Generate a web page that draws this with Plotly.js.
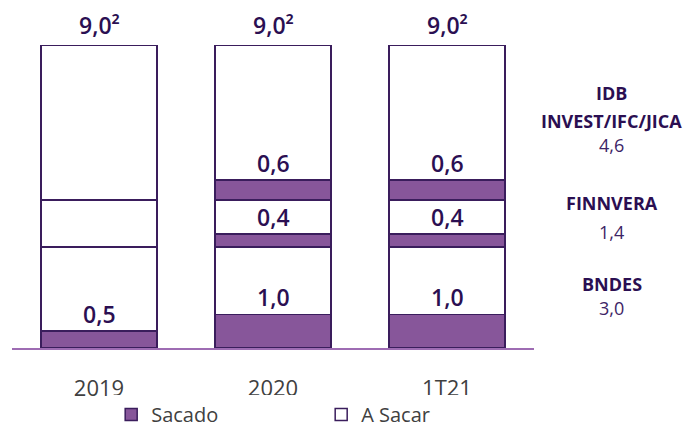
<!DOCTYPE html>
<html>
<head>
<meta charset="utf-8">
<script src="https://cdn.plot.ly/plotly-3.0.1.min.js"></script>
<style>html,body{margin:0;padding:0;background:#fff;}#chart{width:700px;height:428px;}</style>
</head>
<body>
<div id="chart"></div>
<script>
const categories = ['2019', '2020', '1T21'];
const bndesSacado = [0.5, 1.0, 1.0];
const bndesASacar = [2.5, 2.0, 2.0];
const finnveraSacado = [0, 0.4, 0.4];
const finnveraASacar = [1.4, 1.0, 1.0];
const idbSacado = [0, 0.6, 0.6];
const idbASacar = [4.6, 4.0, 4.0];
const totals = [9.0, 9.0, 9.0];
const totalLabels = ['9,0²', '9,0²', '9,0²'];
const groupHeaders = [['BNDES'], ['FINNVERA'], ['IDB', 'INVEST/IFC/JICA']];
const groupTotals = ['3,0', '1,4', '4,6'];

const purple = '#87569a';
const edge = '#3a1d5c';
const textDark = '#2b0f52';
const fmt = v => v.toFixed(1).replace('.', ',');

const segments = [
  [bndesSacado, bndesASacar],
  [finnveraSacado, finnveraASacar],
  [idbSacado, idbASacar]
];

const traces = [];
segments.forEach((seg, i) => {
  traces.push({
    type: 'bar', x: categories, y: seg[0], name: 'Sacado',
    legendgroup: 'sacado', showlegend: i === 0,
    marker: {color: purple, line: {color: edge, width: 1.5}},
    hoverinfo: 'none'
  });
  traces.push({
    type: 'bar', x: categories, y: seg[1], name: 'A Sacar',
    legendgroup: 'asacar', showlegend: i === 0,
    marker: {color: '#ffffff', line: {color: edge, width: 1.5}},
    hoverinfo: 'none'
  });
});

const labelFont = {family: 'Open Sans', size: 23, color: textDark, weight: 600};
const annotations = [];
let base = categories.map(() => 0);
segments.forEach(seg => {
  categories.forEach((c, j) => {
    const s = seg[0][j];
    if (s > 0) {
      annotations.push({
        x: j, y: base[j] + s, xref: 'x', yref: 'y', text: fmt(s),
        showarrow: false, yanchor: 'bottom', yshift: -1, font: labelFont
      });
    }
    base[j] += seg[0][j] + seg[1][j];
  });
});
categories.forEach((c, j) => {
  annotations.push({
    x: j, y: totals[j], xref: 'x', yref: 'y', text: totalLabels[j],
    showarrow: false, yanchor: 'bottom', yshift: 3, font: labelFont
  });
});

// right side group labels (pixel rows from the reference)
const headerRows = [[284], [203], [93, 121]];
const valueRows = [308, 232, 145];
const toPaper = py => (348 - py) / 333;
groupHeaders.forEach((lines, i) => {
  lines.forEach((t, k) => {
    annotations.push({
      x: 1.149, y: toPaper(headerRows[i][k]), xref: 'paper', yref: 'paper',
      text: '<b>' + t + '</b>', showarrow: false, xanchor: 'center', yanchor: 'middle',
      font: {family: 'Open Sans', size: 18, color: textDark}, borderpad: 0
    });
  });
  annotations.push({
    x: 1.149, y: toPaper(valueRows[i]), xref: 'paper', yref: 'paper',
    text: groupTotals[i], showarrow: false, xanchor: 'center', yanchor: 'middle',
    font: {family: 'Open Sans', size: 18, color: '#3d2466'}, borderpad: 0
  });
});

const layout = {
  width: 700, height: 428,
  margin: {l: 12, r: 166, t: 15, b: 80, autoexpand: false},
  paper_bgcolor: '#ffffff', plot_bgcolor: '#ffffff',
  barmode: 'stack', bargap: 0.333,
  showlegend: true,
  legend: {
    orientation: 'h', x: 0.19, xanchor: 'left',
    yref: 'container', y: 1 - 395 / 428, yanchor: 'top',
    font: {family: 'Open Sans', size: 20, color: '#404040'},
    entrywidth: 165, traceorder: 'normal', itemclick: false, itemwidth: 30
  },
  xaxis: {
    type: 'category', range: [-0.5, 2.5],
    showline: true, linecolor: '#9e6cb3', linewidth: 1.5,
    ticks: 'outside', ticklen: 20, tickcolor: 'rgba(0,0,0,0)',
    showgrid: false, zeroline: false,
    tickfont: {family: 'Open Sans', size: 22, color: '#404040'}
  },
  yaxis: {
    range: [0, 333 / 33.6], visible: false, showgrid: false, zeroline: false
  },
  annotations: annotations
};

Plotly.newPlot('chart', traces, layout, {displayModeBar: false, staticPlot: true});
</script>
</body>
</html>
